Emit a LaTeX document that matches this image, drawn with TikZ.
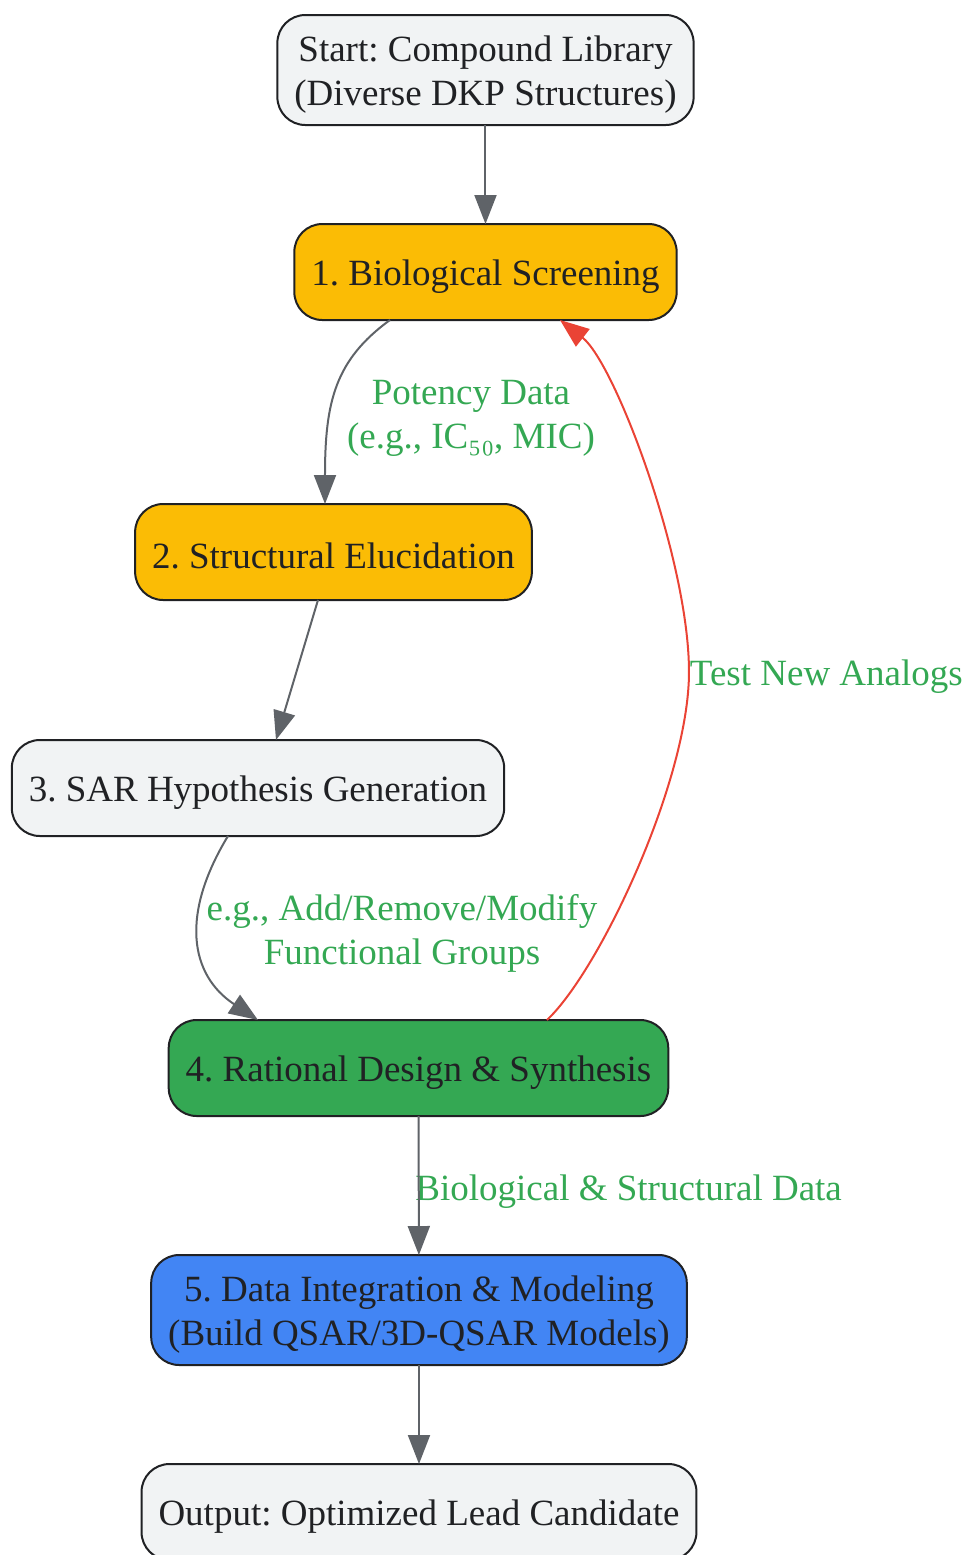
\documentclass[tikz,border=0pt]{standalone}
\usepackage{fontspec}
\setmainfont{Liberation Serif}
\usepackage{tikz}
\usetikzlibrary{arrows.meta,positioning,calc}
\frenchspacing

\definecolor{boxgray}{HTML}{F1F3F4}
\definecolor{boxyellow}{HTML}{FBBC05}
\definecolor{boxgreen}{HTML}{34A853}
\definecolor{boxblue}{HTML}{4285F4}
\definecolor{inkdark}{HTML}{202124}
\definecolor{edgegray}{HTML}{5F6368}
\definecolor{edgered}{HTML}{EA4335}
\definecolor{labelgreen}{HTML}{34A853}

\newcommand{\linestrut}{\rule{0pt}{17.2pt}}

\tikzset{
  stage/.style={draw=inkdark, line width=1pt, rounded corners=14pt, align=center,
    text=inkdark, inner xsep=8.5pt, inner ysep=4pt, outer sep=0pt, minimum height=48pt,
    font=\fontsize{18.5}{22}\selectfont, execute at begin node={\linestrut}},
  flow/.style={draw=edgegray, line width=1pt, -{Triangle[length=14.5pt,width=11pt]}},
  loopback/.style={draw=edgered, line width=1pt, -{Triangle[length=14.5pt,width=11pt]}},
  edgelabel/.style={text=labelgreen, align=center, inner sep=0pt,
    font=\fontsize{18.5}{22}\selectfont, execute at begin node={\linestrut}}
}

\begin{document}
\begin{tikzpicture}
          % frame
          \useasboundingbox (-242.75pt,35pt) rectangle ++(481pt,-777.5pt);

          % nodes
          \node[stage, fill=boxgray, minimum height=55pt] (compound_library) at (0,0) {\linestrut Start: Compound Library\\(Diverse DKP Structures)};

          \node[stage, fill=boxyellow, below=49.5pt of compound_library] (bio_screening) {1. Biological Screening};

          \node[stage, fill=boxyellow, below=92pt of bio_screening, xshift=-76pt] (struct_elucidation) {2. Structural Elucidation};

          \node[stage, fill=boxgray, below=70pt of struct_elucidation, xshift=-37.75pt] (sar_hypothesis) {3. SAR Hypothesis Generation};

          \node[stage, fill=boxgreen, below=92pt of sar_hypothesis, xshift=80.25pt] (rational_design) {4. Rational Design \& Synthesis};

          \node[stage, fill=boxblue, minimum height=55pt, below=69.5pt of rational_design, xshift=0.25pt] (data_modeling) {\linestrut 5. Data Integration \& Modeling\\(Build QSAR/3D-QSAR Models)};

          \node[stage, fill=boxgray, below=49.5pt of data_modeling] (lead_candidate) {Output: Optimized Lead Candidate};

          % edge labels
          \node[edgelabel] (potency_label) at ([xshift=-7.25pt, yshift=-46.5pt]bio_screening.south) {\linestrut Potency Data\\(e.g., IC₅₀, MIC)};
          \node[edgelabel] (groups_label) at ([xshift=72pt, yshift=-46.5pt]sar_hypothesis.south) {\linestrut e.g., Add/Remove/Modify\\Functional Groups};
          \node[edgelabel, anchor=west] (data_label) at ([xshift=-1.75pt, yshift=-35.5pt]rational_design.south) {Biological \& Structural Data};
          \coordinate (loop_mid) at ([xshift=101.75pt, yshift=-176pt]bio_screening.south);

          % edges
          \draw[flow] (compound_library) -- (bio_screening);
          \draw[flow] ([xshift=-47.75pt]bio_screening.south) .. controls +(-27.5pt,-20pt) and +(0,51pt) .. ([xshift=-4.25pt]struct_elucidation.north);
          \draw[flow] ([xshift=-7.75pt]struct_elucidation.south) -- ([xshift=9pt]sar_hypothesis.north);
          \draw[flow] ([xshift=-15pt]sar_hypothesis.south) .. controls +(-24pt,-39.5pt) and +(-34pt,22.5pt) .. ([xshift=-80.25pt]rational_design.north);
          \draw[flow] (rational_design) -- (data_modeling);
          \draw[flow] (data_modeling) -- (lead_candidate);
          \draw[loopback] ([xshift=64.25pt]rational_design.north) .. controls +(26.5pt,25pt) and +(0,-54pt) .. (loop_mid)
               node[edgelabel, anchor=west] (analogs_label) {Test New Analogs}
               .. controls +(0,56pt) and +(27.5pt,-21.5pt) .. ([xshift=37.25pt]bio_screening.south);

\end{tikzpicture}
\end{document}
